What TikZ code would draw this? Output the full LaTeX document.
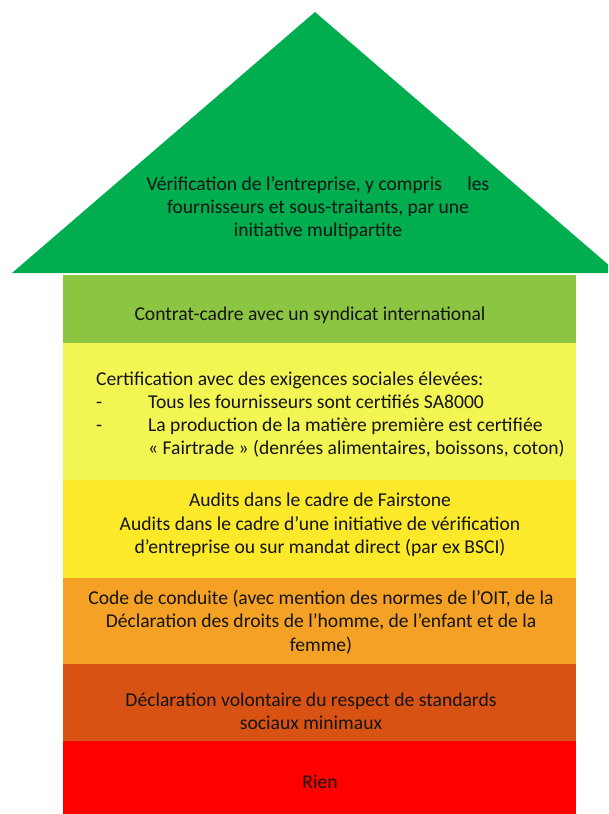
\documentclass[tikz,border=0pt]{standalone}
\usepackage{fontspec}
\setmainfont{Carlito}
\usepackage{xcolor}
\definecolor{roofgreen}{HTML}{00AE4F}
\definecolor{lightgreen}{HTML}{8BC541}
\definecolor{paleyellow}{HTML}{F3F552}
\definecolor{deepyellow}{HTML}{FCE92A}
\definecolor{softorange}{HTML}{F4A125}
\definecolor{darkorange}{HTML}{D85214}
\definecolor{purered}{HTML}{FF0000}
\tikzset{
  bandtext/.style={inner sep=0pt, align=center, text=black!92,
    font=\fontsize{19.6}{23.3}\selectfont}
}

\begin{document}
\begin{tikzpicture}[x=1pt, y=-1pt]
        % frame
        \useasboundingbox (0, 0) rectangle (608, 814);
        \clip (0, 0) rectangle (608, 814);
        % roof
        \fill [roofgreen] (315, 12) -- (12, 273) -- (618, 273) -- cycle;
        % bands
        \fill [lightgreen] (63, 275) rectangle (576, 343);
        \fill [paleyellow] (63, 343) rectangle (576, 480);
        \fill [deepyellow] (63, 480) rectangle (576, 578);
        \fill [softorange] (63, 578) rectangle (576, 664);
        \fill [darkorange] (63, 664) rectangle (576, 741);
        \fill [purered] (63, 741) rectangle (576, 814);
        % texts
        \node [bandtext] (verif) at (318, 208)
          {Vérification de l’entreprise, y compris\hspace{1.3em}les\\
           fournisseurs et sous-traitants, par une\\
           initiative multipartite};
        \node [bandtext] (contrat) at (310, 315)
          {Contrat-cadre avec un syndicat international};
        \node [bandtext, align=left, anchor=west] (certif) at (96, 414.5)
          {Certification avec des exigences sociales élevées:\\
           \makebox[52pt][l]{-}Tous les fournisseurs sont certifiés SA8000\\
           \makebox[52pt][l]{-}La production de la matière première est certifiée\\
           \hspace*{52pt}« Fairtrade » (denrées alimentaires, boissons, coton)};
        \node [bandtext] (audits) at (320, 525)
          {Audits dans le cadre de Fairstone\\
           Audits dans le cadre d’une initiative de vérification\\
           d’entreprise ou sur mandat direct (par ex BSCI)};
        \node [bandtext] (code) at (321, 622)
          {Code de conduite (avec mention des normes de l’OIT, de la\\
           Déclaration des droits de l’homme, de l’enfant et de la\\
           femme)};
        \node [bandtext] (declar) at (311, 711)
          {Déclaration volontaire du respect de standards\\
           sociaux minimaux};
        \node [bandtext] (rien) at (320, 782) {Rien};
    \end{tikzpicture}
\end{document}
